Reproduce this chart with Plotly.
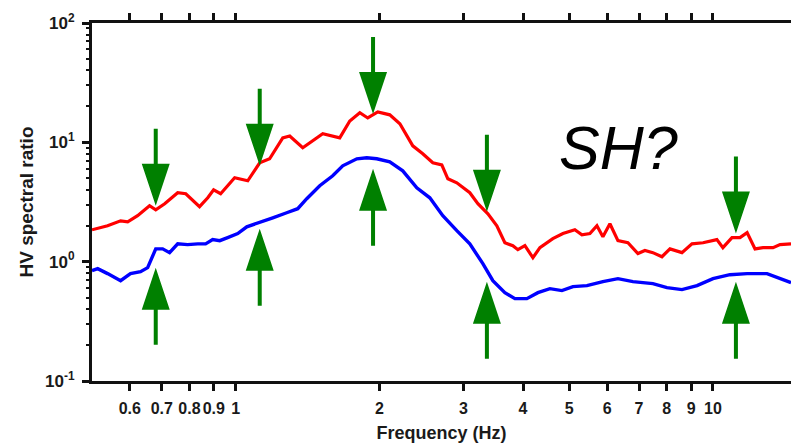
import math
import plotly.graph_objects as go

# Horizontal-to-vertical spectral ratio curves (frequency in Hz, ratio)
red_freq = [0.50, 0.539, 0.574, 0.594, 0.623, 0.660, 0.680, 0.710, 0.756, 0.786,
            0.840, 0.874, 0.899, 0.930, 0.995, 1.044, 1.060, 1.123, 1.178, 1.255,
            1.298, 1.382, 1.450, 1.522, 1.652, 1.734, 1.820, 1.891, 1.985, 2.103,
            2.208, 2.350, 2.466, 2.588, 2.703, 2.783, 2.906, 3.094, 3.217, 3.376,
            3.525, 3.664, 3.808, 3.901, 4.036, 4.195, 4.339, 4.618, 4.849, 5.136,
            5.313, 5.523, 5.713, 5.880, 6.082, 6.322, 6.634, 6.962, 7.201, 7.483,
            7.818, 8.126, 8.610, 9.036, 9.53, 10.19, 10.49, 10.96, 11.39, 11.79,
            12.25, 12.73, 13.36, 13.82, 14.57]
red_ratio = [1.85, 2.00, 2.20, 2.16, 2.43, 2.94, 2.72, 3.06, 3.78, 3.71,
             2.89, 3.43, 4.00, 3.71, 5.05, 4.86, 4.76, 6.74, 7.28, 10.9,
             11.3, 9.0, 10.3, 11.8, 10.9, 15.1, 17.7, 16.0, 18.0, 17.0,
             14.3, 9.35, 8.01, 6.74, 6.48, 4.95, 4.58, 3.78, 3.06, 2.52,
             2.00, 1.44, 1.36, 1.26, 1.36, 1.08, 1.31, 1.56, 1.72, 1.85,
             1.68, 1.72, 2.00, 1.62, 2.08, 1.50, 1.44, 1.17, 1.24, 1.19,
             1.10, 1.28, 1.19, 1.41, 1.44, 1.53, 1.31, 1.59, 1.59, 1.75,
             1.28, 1.31, 1.31, 1.39, 1.41]

blue_freq = [0.50, 0.514, 0.539, 0.574, 0.602, 0.632, 0.654, 0.680, 0.703, 0.727,
             0.756, 0.793, 0.833, 0.865, 0.895, 0.926, 0.962, 1.010, 1.055, 1.123,
             1.196, 1.279, 1.349, 1.409, 1.500, 1.597, 1.676, 1.794, 1.882, 1.975,
             2.103, 2.239, 2.396, 2.551, 2.716, 2.906, 3.094, 3.295, 3.458, 3.664,
             3.846, 4.074, 4.297, 4.553, 4.825, 5.088, 5.443, 5.880, 6.322, 6.796,
             7.483, 8.009, 8.610, 9.26, 10.0, 10.85, 11.79, 12.98, 13.82, 14.57]
blue_ratio = [0.841, 0.874, 0.794, 0.693, 0.794, 0.825, 0.891, 1.28, 1.28, 1.19,
              1.41, 1.39, 1.41, 1.41, 1.53, 1.50, 1.59, 1.72, 1.96, 2.12,
              2.33, 2.57, 2.78, 3.37, 4.33, 5.25, 6.36, 7.28, 7.42, 7.28,
              6.87, 5.77, 4.16, 3.43, 2.43, 1.82, 1.41, 0.962, 0.693, 0.550,
              0.490, 0.490, 0.550, 0.594, 0.572, 0.618, 0.630, 0.680, 0.721, 0.680,
              0.655, 0.606, 0.583, 0.630, 0.721, 0.778, 0.794, 0.794, 0.721, 0.667]

# Peak markers: frequency, point on the red curve (arrow from above),
# point on the blue curve (arrow from below)
arrow_freq = [0.68, 1.123, 1.94, 3.36, 11.17]
arrow_red = [2.94, 6.36, 17.3, 2.62, 1.72]
arrow_blue = [0.891, 1.89, 6.00, 0.680, 0.680]

x_ticks = [0.6, 0.7, 0.8, 0.9, 1, 2, 3, 4, 5, 6, 7, 8, 9, 10]
x_tick_text = ["0.6", "0.7", "0.8", "0.9", "1", "2", "3", "4", "5", "6", "7", "8", "9", "10"]
y_ticks = [0.1, 1, 10, 100]
y_tick_text = ["10<sup>-1</sup>", "10<sup>0</sup>", "10<sup>1</sup>", "10<sup>2</sup>"]
y_minor = [m * d for d in (0.1, 1, 10) for m in range(2, 10)]

FONT = "Liberation Sans, Arial, Helvetica, sans-serif"
GREEN = "#008000"
INK = "#1a1a1a"

fig = go.Figure()
fig.add_trace(go.Scatter(x=red_freq, y=red_ratio, mode="lines",
                         line=dict(color="#ff0000", width=3.2), showlegend=False))
fig.add_trace(go.Scatter(x=blue_freq, y=blue_ratio, mode="lines",
                         line=dict(color="#0000ff", width=3.4), showlegend=False))

# Arrow glyph in pixels, tip at the origin, pointing down
HEAD_W, HEAD_L, SHAFT_W, TOTAL_L = 14, 42, 2, 77


def arrow_path(sign):
    pts = [(0, 0), (HEAD_W, HEAD_L), (SHAFT_W, HEAD_L), (SHAFT_W, TOTAL_L),
           (-SHAFT_W, TOTAL_L), (-SHAFT_W, HEAD_L), (-HEAD_W, HEAD_L)]
    return "M" + " L".join(f"{px},{sign * py}" for px, py in pts) + " Z"


for f, r, b in zip(arrow_freq, arrow_red, arrow_blue):
    # down arrow onto the red curve
    fig.add_shape(type="path", xref="x", yref="y", xsizemode="pixel", ysizemode="pixel",
                  xanchor=f, yanchor=r, path=arrow_path(1),
                  fillcolor=GREEN, line=dict(width=0), layer="above")
    # up arrow onto the blue curve
    fig.add_shape(type="path", xref="x", yref="y", xsizemode="pixel", ysizemode="pixel",
                  xanchor=f, yanchor=b, path=arrow_path(-1),
                  fillcolor=GREEN, line=dict(width=0), layer="above")

fig.add_annotation(x=math.log10(6.35), y=math.log10(9.0), xref="x", yref="y",
                   text="<i>SH?</i>", showarrow=False,
                   font=dict(family=FONT, size=61, color="#000000"))

fig.update_layout(
    width=791, height=444,
    margin=dict(l=92, r=0, t=23, b=63),
    paper_bgcolor="white", plot_bgcolor="white",
    font=dict(family=FONT, color=INK),
    xaxis=dict(
        type="log", range=[math.log10(0.5), math.log10(14.57)],
        tickvals=x_ticks, ticktext=x_tick_text,
        ticks="outside", ticklen=7, tickwidth=2.5, tickcolor="#111111",
        showline=True, linewidth=3, linecolor="#111111", mirror="ticks",
        showgrid=False, zeroline=False, ticklabelstandoff=4,
        tickfont=dict(size=16, color=INK, weight="bold"),
        title=dict(text="Frequency (Hz)", font=dict(size=18, color=INK, weight="bold"), standoff=11),
    ),
    yaxis=dict(
        type="log", range=[-1, 2],
        tickvals=y_ticks, ticktext=y_tick_text,
        ticks="outside", ticklen=7, tickwidth=2.5, tickcolor="#111111",
        minor=dict(tickvals=y_minor, ticks="outside", ticklen=3, tickwidth=2, tickcolor="#111111"),
        showline=True, linewidth=3, linecolor="#111111", mirror=False,
        showgrid=False, zeroline=False, ticklabelstandoff=4,
        tickfont=dict(size=17, color=INK, weight="bold"),
        title=dict(text="HV spectral ratio", font=dict(size=19, color=INK, weight="bold"), standoff=7),
    ),
)

fig.write_html("out.html")
